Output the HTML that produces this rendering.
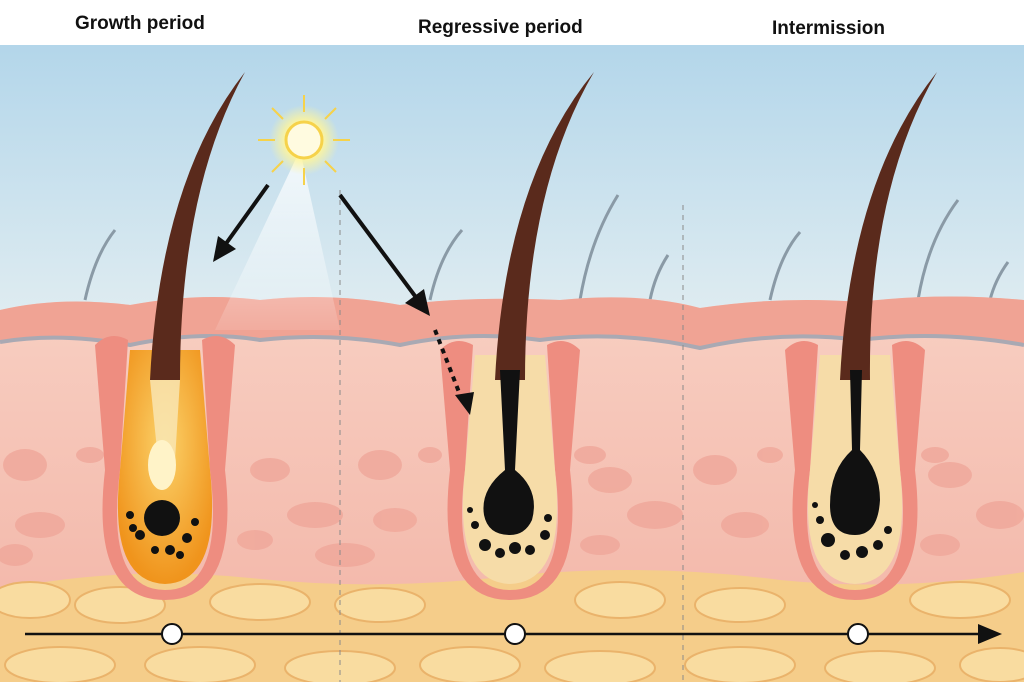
<!DOCTYPE html>
<html><head><meta charset="utf-8"><style>
html,body{margin:0;padding:0;background:#fff}
svg{display:block}
text{font-family:"Liberation Sans",sans-serif;font-weight:bold;font-size:19px;fill:#111}
</style></head><body>
<svg width="1024" height="682" viewBox="0 0 1024 682" xmlns="http://www.w3.org/2000/svg">
<defs>
<linearGradient id="sky" x1="0" y1="0" x2="0" y2="1"><stop offset="0" stop-color="#b3d6ea"/><stop offset="1" stop-color="#dfecf1"/></linearGradient>
<linearGradient id="derm" x1="0" y1="0" x2="0" y2="1"><stop offset="0" stop-color="#f8cfc2"/><stop offset="1" stop-color="#f2b3a5"/></linearGradient>
<radialGradient id="glow" cx="0.5" cy="0.5" r="0.5"><stop offset="0" stop-color="#fff"/><stop offset="0.5" stop-color="#fff59a"/><stop offset="1" stop-color="#fff59a" stop-opacity="0"/></radialGradient>
<linearGradient id="beam" x1="0" y1="0" x2="0" y2="1"><stop offset="0" stop-color="#fff" stop-opacity="0.8"/><stop offset="1" stop-color="#fff" stop-opacity="0.1"/></linearGradient>
<radialGradient id="orange" cx="0.5" cy="0.4" r="0.6"><stop offset="0" stop-color="#fbd26a"/><stop offset="1" stop-color="#f0941c"/></radialGradient>
</defs>
<rect width="1024" height="45" fill="#fff"/>
<text x="75" y="29">Growth period</text>
<text x="418" y="33">Regressive period</text>
<text x="772" y="34">Intermission</text>
<rect y="45" width="1024" height="270" fill="url(#sky)"/>
<g fill="none" stroke="#8a9aa6" stroke-width="3">
<path d="M85 300 Q95 255 115 230"/><path d="M430 300 Q440 255 462 230"/><path d="M580 300 Q590 240 618 195"/>
<path d="M650 300 Q655 275 668 255"/><path d="M770 300 Q780 255 800 232"/><path d="M918 300 Q928 240 958 200"/><path d="M990 300 Q995 280 1008 262"/>
</g>
<path d="M0 310 Q60 296 130 305 Q200 292 260 300 Q330 292 400 305 Q470 296 560 300 Q640 292 700 308 Q780 296 860 302 Q940 292 1024 300 V682 H0Z" fill="url(#derm)"/>
<path d="M0 310 Q60 296 130 305 Q200 292 260 300 Q330 292 400 305 Q470 296 560 300 Q640 292 700 308 Q780 296 860 302 Q940 292 1024 300 V345 Q940 330 860 340 Q780 330 700 348 Q620 330 540 340 Q470 330 400 345 Q330 332 260 340 Q200 330 130 345 Q60 332 0 342Z" fill="#f0a394"/>
<path d="M0 342 Q60 332 130 345 Q200 330 260 340 Q330 332 400 345 Q470 330 540 340 Q620 330 700 348 Q780 330 860 340 Q940 330 1024 345" fill="none" stroke="#a9a9b3" stroke-width="4"/>
<g fill="#f0a79a" opacity="0.8">
<ellipse cx="25" cy="465" rx="22" ry="16"/><ellipse cx="40" cy="525" rx="25" ry="13"/><ellipse cx="15" cy="555" rx="18" ry="11"/><ellipse cx="90" cy="455" rx="14" ry="8"/>
<ellipse cx="270" cy="470" rx="20" ry="12"/><ellipse cx="315" cy="515" rx="28" ry="13"/><ellipse cx="345" cy="555" rx="30" ry="12"/><ellipse cx="255" cy="540" rx="18" ry="10"/>
<ellipse cx="380" cy="465" rx="22" ry="15"/><ellipse cx="395" cy="520" rx="22" ry="12"/><ellipse cx="430" cy="455" rx="12" ry="8"/>
<ellipse cx="610" cy="480" rx="22" ry="13"/><ellipse cx="655" cy="515" rx="28" ry="14"/><ellipse cx="600" cy="545" rx="20" ry="10"/><ellipse cx="590" cy="455" rx="16" ry="9"/>
<ellipse cx="715" cy="470" rx="22" ry="15"/><ellipse cx="745" cy="525" rx="24" ry="13"/><ellipse cx="770" cy="455" rx="13" ry="8"/>
<ellipse cx="950" cy="475" rx="22" ry="13"/><ellipse cx="1000" cy="515" rx="24" ry="14"/><ellipse cx="940" cy="545" rx="20" ry="11"/><ellipse cx="935" cy="455" rx="14" ry="8"/>
</g>
<path d="M0 590 Q120 565 250 578 Q380 592 520 575 Q650 563 780 580 Q900 592 1024 572 V682 H0Z" fill="#f5cd8a"/>
<g fill="#f9dca0" stroke="#eab36b" stroke-width="2">
<ellipse cx="30" cy="600" rx="40" ry="18"/><ellipse cx="120" cy="605" rx="45" ry="18"/><ellipse cx="260" cy="602" rx="50" ry="18"/><ellipse cx="380" cy="605" rx="45" ry="17"/>
<ellipse cx="620" cy="600" rx="45" ry="18"/><ellipse cx="740" cy="605" rx="45" ry="17"/><ellipse cx="960" cy="600" rx="50" ry="18"/>
<ellipse cx="60" cy="665" rx="55" ry="18"/><ellipse cx="200" cy="665" rx="55" ry="18"/><ellipse cx="340" cy="668" rx="55" ry="17"/><ellipse cx="470" cy="665" rx="50" ry="18"/>
<ellipse cx="600" cy="668" rx="55" ry="17"/><ellipse cx="740" cy="665" rx="55" ry="18"/><ellipse cx="880" cy="668" rx="55" ry="17"/><ellipse cx="1000" cy="665" rx="40" ry="17"/>
</g>
<g stroke="#8a8a8a" stroke-dasharray="5 5" stroke-width="1">
<line x1="340" y1="190" x2="340" y2="682"/><line x1="683" y1="205" x2="683" y2="682"/>
</g>
<!-- follicles -->
<g>
<path d="M95 345 Q110 330 128 340 L120 470 Q105 590 165 590 Q225 590 210 470 L202 340 Q220 330 235 345 L225 470 Q240 600 165 600 Q90 600 105 470Z" fill="#ee8d80"/>
<path d="M130 350 L120 470 Q108 582 165 584 Q222 582 210 470 L200 350Z" fill="url(#orange)"/>
</g>
<g>
<path d="M440 350 Q455 335 473 345 L465 470 Q450 590 510 590 Q570 590 555 470 L547 345 Q565 335 580 350 L570 470 Q585 600 510 600 Q435 600 450 470Z" fill="#ee8d80"/>
<path d="M475 355 L465 470 Q453 582 510 584 Q567 582 555 470 L545 355Z" fill="#f6dca8"/>
</g>
<g>
<path d="M785 350 Q800 335 818 345 L810 470 Q795 590 855 590 Q915 590 900 470 L892 345 Q910 335 925 350 L915 470 Q930 600 855 600 Q780 600 795 470Z" fill="#ee8d80"/>
<path d="M820 355 L810 470 Q798 582 855 584 Q912 582 900 470 L890 355Z" fill="#f6dca8"/>
</g>
<path d="M300 150 L215 330 L340 330Z" fill="url(#beam)"/>
<circle cx="304" cy="140" r="35" fill="url(#glow)"/>
<circle cx="304" cy="140" r="18" fill="#fffbe0" stroke="#f6d24a" stroke-width="3"/>
<g stroke="#f6d24a" stroke-width="2">
<line x1="304" y1="95" x2="304" y2="112"/><line x1="304" y1="168" x2="304" y2="185"/><line x1="258" y1="140" x2="275" y2="140"/><line x1="333" y1="140" x2="350" y2="140"/>
<line x1="272" y1="108" x2="283" y2="119"/><line x1="325" y1="161" x2="336" y2="172"/><line x1="336" y1="108" x2="325" y2="119"/><line x1="283" y1="161" x2="272" y2="172"/>
</g>
<path d="M150 380 Q160 180 245 72 Q180 190 180 380Z" fill="#5a2a1c"/>
<path d="M150 380 L180 380 L175 460 L158 460Z" fill="#f9e7b8" opacity="0.8"/>
<ellipse cx="162" cy="465" rx="14" ry="25" fill="#fff3c8"/>
<circle cx="162" cy="518" r="18" fill="#111"/>
<g fill="#111"><circle cx="130" cy="515" r="4"/><circle cx="140" cy="535" r="5"/><circle cx="155" cy="550" r="4"/><circle cx="170" cy="550" r="5"/><circle cx="187" cy="538" r="5"/><circle cx="195" cy="522" r="4"/><circle cx="133" cy="528" r="4"/><circle cx="180" cy="555" r="4"/></g>
<path d="M495 380 Q505 180 594 72 Q525 190 525 380Z" fill="#5a2a1c"/>
<path d="M500 370 L520 370 L515 470 Q540 490 532 520 Q525 535 510 535 Q488 535 484 515 Q480 490 505 470Z" fill="#111"/>
<g fill="#111"><circle cx="475" cy="525" r="4"/><circle cx="485" cy="545" r="6"/><circle cx="500" cy="553" r="5"/><circle cx="515" cy="548" r="6"/><circle cx="530" cy="550" r="5"/><circle cx="545" cy="535" r="5"/><circle cx="548" cy="518" r="4"/><circle cx="470" cy="510" r="3"/></g>
<path d="M840 380 Q850 180 937 72 Q868 190 870 380Z" fill="#5a2a1c"/>
<path d="M850 370 L862 370 L860 450 Q880 470 880 500 Q878 535 855 535 Q830 535 830 505 Q830 470 852 450Z" fill="#111"/>
<g fill="#111"><circle cx="820" cy="520" r="4"/><circle cx="828" cy="540" r="7"/><circle cx="845" cy="555" r="5"/><circle cx="862" cy="552" r="6"/><circle cx="878" cy="545" r="5"/><circle cx="888" cy="530" r="4"/><circle cx="815" cy="505" r="3"/></g>
<g stroke="#111" stroke-width="4" fill="#111">
<line x1="268" y1="185" x2="225" y2="245"/>
<path d="M213 262 L218 236 L236 249Z" stroke="none"/>
<line x1="340" y1="195" x2="418" y2="300"/>
<path d="M430 316 L405 303 L424 289Z" stroke="none"/>
<line x1="435" y1="330" x2="462" y2="400" stroke-dasharray="5 5"/>
<path d="M470 415 L455 395 L474 392Z" stroke="none"/>
</g>
<line x1="25" y1="634" x2="985" y2="634" stroke="#111" stroke-width="2.5"/>
<path d="M1002 634 L978 624 L978 644Z" fill="#111"/>
<g fill="#fff" stroke="#111" stroke-width="2"><circle cx="172" cy="634" r="10"/><circle cx="515" cy="634" r="10"/><circle cx="858" cy="634" r="10"/></g>
</svg>
</body></html>
